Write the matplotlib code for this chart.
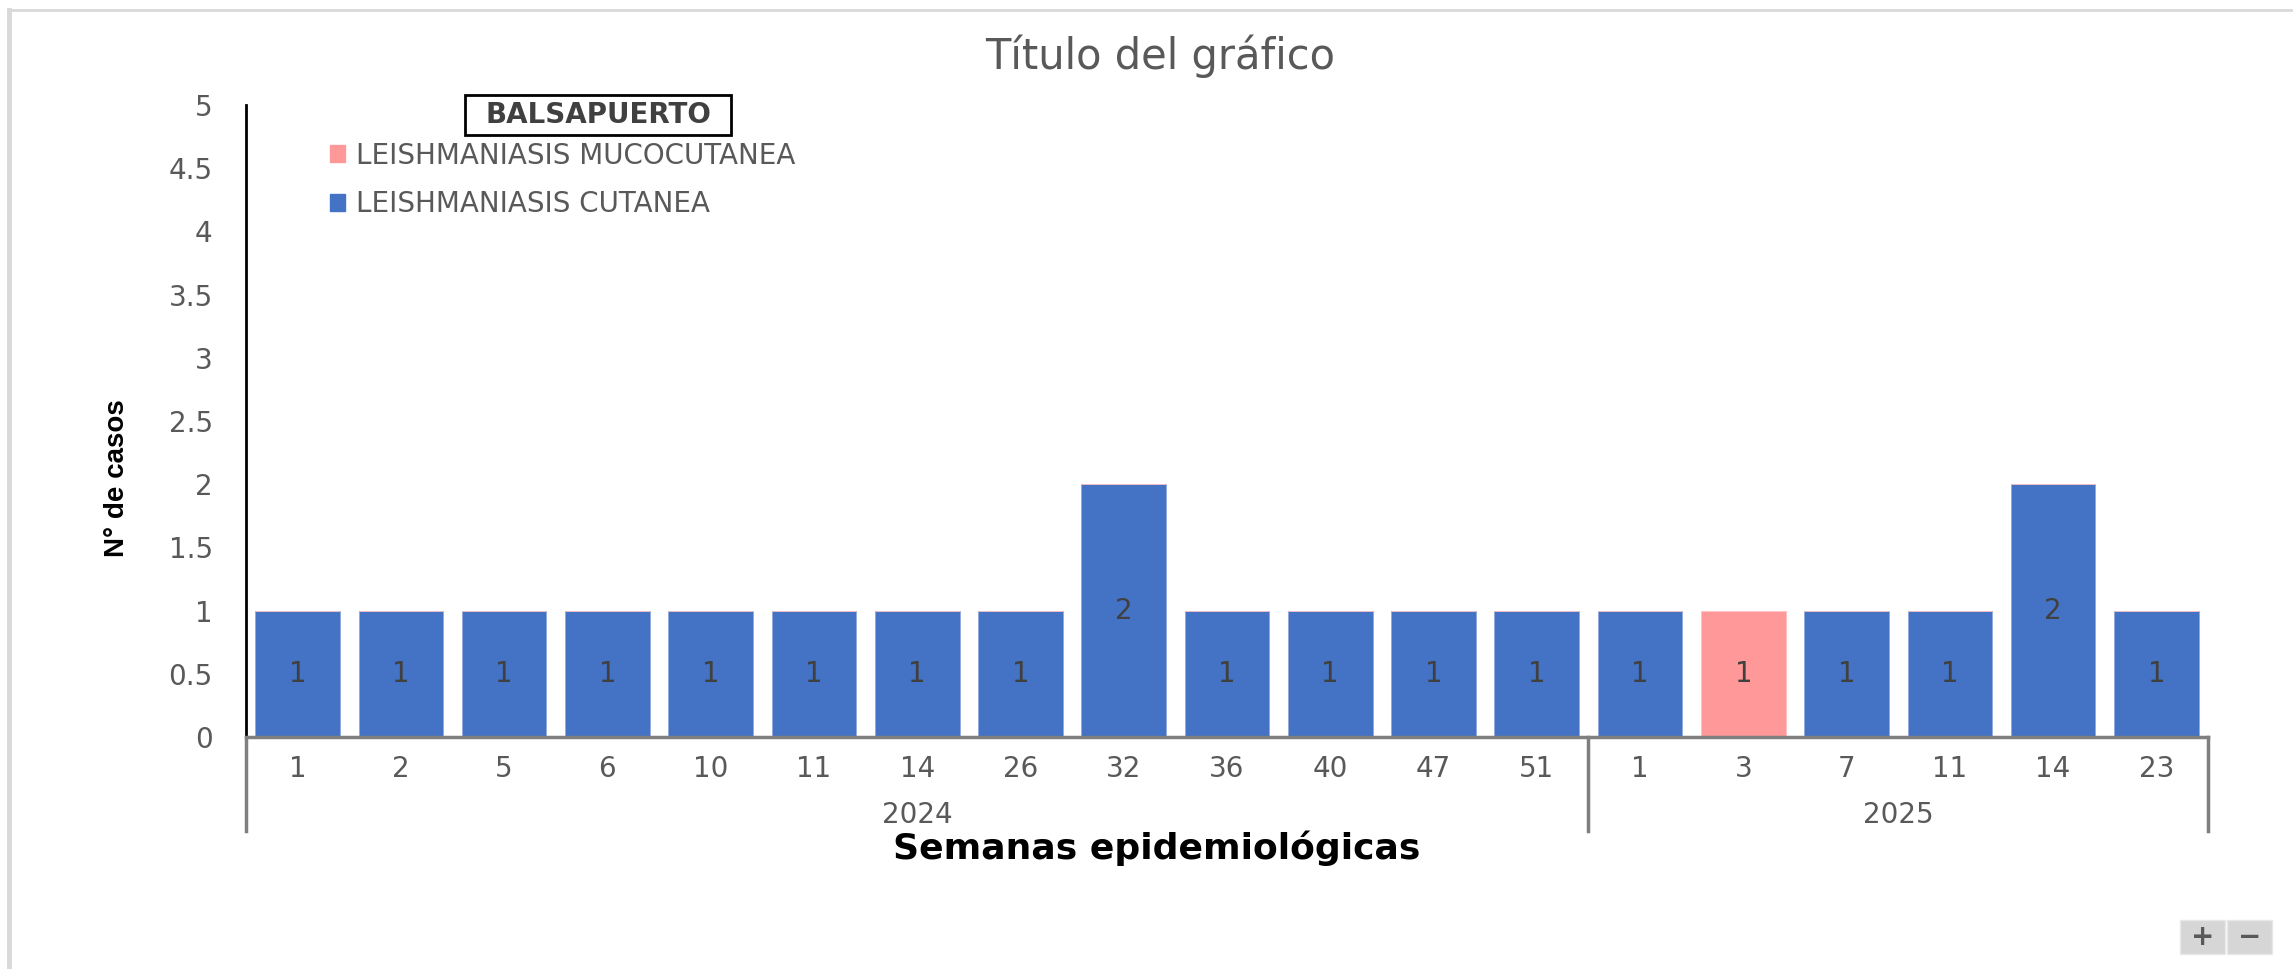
import numpy as np
import matplotlib.pyplot as plt
from matplotlib.patches import Patch, Rectangle, FancyBboxPatch
from matplotlib.transforms import blended_transform_factory

# datos
semanas = ['1', '2', '5', '6', '10', '11', '14', '26', '32', '36', '40', '47', '51',
           '1', '3', '7', '11', '14', '23']
anios = ['2024', '2025']
n_por_anio = [13, 6]
cutanea = [1, 1, 1, 1, 1, 1, 1, 1, 2, 1, 1, 1, 1, 1, 0, 1, 1, 2, 1]
mucocutanea = [0, 0, 0, 0, 0, 0, 0, 0, 0, 0, 0, 0, 0, 0, 1, 0, 0, 0, 0]
distrito = 'BALSAPUERTO'

AZUL = '#4472C4'
ROSA = '#FF9999'
GRIS = '#595959'
GRIS_LINEA = '#7F7F7F'

W, H = 2293, 969
fig = plt.figure(figsize=(W / 100, H / 100), dpi=100)

# borde del grafico
fig.add_artist(plt.Line2D([9 / W, 9 / W], [0, 1 - 10 / H], color='#D9D9D9', lw=3.5))
fig.add_artist(plt.Line2D([9 / W, 1], [1 - 10 / H, 1 - 10 / H], color='#D9D9D9', lw=2))

ax = fig.add_axes([246 / W, 1 - 737 / H, (2208 - 246) / W, (737 - 105) / H])

x = np.arange(len(semanas))
b1 = ax.bar(x, cutanea, width=0.82, color=AZUL, edgecolor='#8FAADC', linewidth=0.6)
b2 = ax.bar(x, mucocutanea, width=0.82, bottom=cutanea, color=ROSA, edgecolor='#FFC0C0', linewidth=0.6)
ax.bar_label(b1, labels=[str(v) if v else '' for v in cutanea], label_type='center',
             color='#404040', fontsize=20)
ax.bar_label(b2, labels=[str(v) if v else '' for v in mucocutanea], label_type='center',
             color='#404040', fontsize=20)

ax.set_xlim(-0.5, len(semanas) - 0.5)
ax.set_ylim(0, 5)
ax.set_yticks(np.arange(0, 5.01, 0.5))
ax.set_yticklabels(['{:g}'.format(v) for v in np.arange(0, 5.01, 0.5)])
ax.set_xticks(x)
ax.set_xticklabels(semanas)
ax.tick_params(axis='y', length=0, pad=24, labelsize=20, labelcolor=GRIS)
ax.tick_params(axis='x', length=0, pad=13, labelsize=20, labelcolor=GRIS)

for s in ['top', 'right']:
    ax.spines[s].set_visible(False)
ax.spines['left'].set_color('black')
ax.spines['left'].set_linewidth(2)
ax.spines['bottom'].set_color(GRIS_LINEA)
ax.spines['bottom'].set_linewidth(2.5)

# ejes de categorias agrupadas (anio)
tr = blended_transform_factory(ax.transData, ax.transAxes)
y_fondo = -(831 - 737) / (737 - 105)
y_anio = -(815 - 737) / (737 - 105)
inicio = -0.5
for anio, n in zip(anios, n_por_anio):
    ax.plot([inicio, inicio], [0, y_fondo], transform=tr, color=GRIS_LINEA, lw=2.5, clip_on=False)
    ax.text(inicio + n / 2, y_anio, anio, transform=tr, ha='center', va='center',
            fontsize=20, color=GRIS)
    inicio += n
ax.plot([inicio, inicio], [0, y_fondo], transform=tr, color=GRIS_LINEA, lw=2.5, clip_on=False)

# titulos
fig.text(1160 / W, 1 - 56 / H, 'Título del gráfico', ha='center', va='center',
         fontsize=30, color=GRIS)
fig.text(1157 / W, 1 - 848 / H, 'Semanas epidemiológicas', ha='center', va='center',
         fontsize=26, fontweight='bold', color='black')
fig.text(117 / W, 1 - 478 / H, 'N° de casos', ha='center', va='center', rotation=90,
         fontsize=20, fontweight='bold', color='black', family='Liberation Sans')

# leyenda
fig.add_artist(Rectangle((465 / W, 1 - 135 / H), 266 / W, 40 / H, transform=fig.transFigure,
                         facecolor='white', edgecolor='black', lw=2))
fig.text(598 / W, 1 - 115 / H, distrito, ha='center', va='center', fontsize=20,
         fontweight='bold', color='#404040')
handles = [Patch(color=ROSA, label='LEISHMANIASIS MUCOCUTANEA'),
           Patch(color=AZUL, label='LEISHMANIASIS CUTANEA')]
fig.legend(handles=handles, loc='center left', bbox_to_anchor=(330 / W, 1 - 180 / H),
           frameon=False, fontsize=20, labelcolor=GRIS, handlelength=0.55, handleheight=0.55,
           handletextpad=0.4, labelspacing=0.75, borderpad=0, borderaxespad=0)

# botones de zoom
for i, simbolo in enumerate(['+', '\u2212']):
    x0 = (2180 + i * 47) / W
    fig.add_artist(FancyBboxPatch((x0, 1 - 954 / H), 45 / W, 34 / H, boxstyle='square,pad=0',
                                  transform=fig.transFigure, facecolor='#D6D6D6',
                                  edgecolor='#E8E8E8', lw=1))
    fig.text(x0 + 22.5 / W, 1 - 937 / H, simbolo, ha='center', va='center', fontsize=20,
             fontweight='bold', color='#595959')

fig.savefig('out.png', dpi=100, facecolor='white')
